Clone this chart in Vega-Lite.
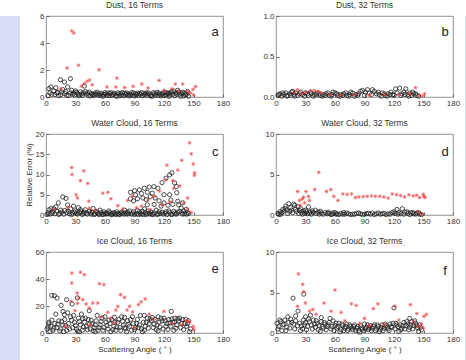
{
"$schema": "https://vega.github.io/schema/vega-lite/v6.json",
"background": "white",
"padding": 0,
"spacing": 4,
"config": {
  "font": "Liberation Sans",
  "title": {"fontSize": 8.5, "fontWeight": "normal", "color": "#333", "offset": 3, "font": "Liberation Sans"},
  "axis": {"labelFontSize": 8, "labelColor": "#333", "labelFont": "Liberation Sans", "tickColor": "#666", "tickSize": -3, "labelPadding": 5, "labelOverlap": false, "labelFlush": false, "labelBound": false, "domain": false, "grid": false, "titleFont": "Liberation Sans", "titleFontSize": 8, "titleFontWeight": "normal", "titleColor": "#333"},
  "view": {"stroke": "#777", "strokeWidth": 0.8}
},
"datasets": {
"ak": [{"x":3,"y":0.62},{"x":5,"y":0.75},{"x":8,"y":0.45},{"x":10,"y":0.68},{"x":12,"y":0.35},{"x":14.6,"y":1.28},{"x":17,"y":0.55},{"x":18.7,"y":1.11},{"x":20,"y":0.4},{"x":22,"y":0.75},{"x":24.8,"y":1.36},{"x":26,"y":0.5},{"x":28,"y":0.3},{"x":30,"y":0.45},{"x":32,"y":0.25},{"x":35,"y":0.38},{"x":38,"y":0.3},{"x":39,"y":0.81},{"x":41,"y":0.22},{"x":44,"y":0.35},{"x":47,"y":0.2},{"x":50,"y":0.3},{"x":53,"y":0.15},{"x":56,"y":0.28},{"x":59,"y":0.2},{"x":62,"y":0.12},{"x":65,"y":0.25},{"x":68,"y":0.18},{"x":71,"y":0.1},{"x":74,"y":0.22},{"x":77,"y":0.15},{"x":80,"y":0.28},{"x":83,"y":0.12},{"x":86,"y":0.2},{"x":89,"y":0.3},{"x":92,"y":0.15},{"x":95,"y":0.25},{"x":98,"y":0.1},{"x":101,"y":0.22},{"x":104,"y":0.3},{"x":107,"y":0.15},{"x":110,"y":0.25},{"x":113,"y":0.35},{"x":116,"y":0.2},{"x":119,"y":0.3},{"x":122,"y":0.15},{"x":125,"y":0.28},{"x":128,"y":0.4},{"x":130,"y":0.45},{"x":132,"y":0.3},{"x":134,"y":0.5},{"x":136,"y":0.2},{"x":139,"y":0.35},{"x":142,"y":0.15},{"x":145,"y":0.05},{"x":2,"y":0.1},{"x":6,"y":0.2},{"x":15,"y":0.15},{"x":23,"y":0.1},{"x":34,"y":0.1},{"x":45,"y":0.08},{"x":58,"y":0.05},{"x":72,"y":0.05},{"x":90,"y":0.08},{"x":108,"y":0.05},{"x":125,"y":0.05},{"x":140,"y":0.08},{"x":11,"y":0.3},{"x":19,"y":0.25},{"x":27,"y":0.2},{"x":36,"y":0.22},{"x":43,"y":0.12},{"x":49,"y":0.18},{"x":55,"y":0.1},{"x":63,"y":0.3},{"x":69,"y":0.28},{"x":78,"y":0.32},{"x":85,"y":0.08},{"x":93,"y":0.28},{"x":97,"y":0.32},{"x":103,"y":0.12},{"x":111,"y":0.12},{"x":117,"y":0.08},{"x":124,"y":0.22},{"x":131,"y":0.1},{"x":137,"y":0.05},{"x":4,"y":0.3},{"x":9,"y":0.18},{"x":13,"y":0.1},{"x":16,"y":0.38},{"x":21,"y":0.12},{"x":25,"y":0.3},{"x":29,"y":0.15},{"x":31,"y":0.35},{"x":33,"y":0.18},{"x":37,"y":0.12},{"x":40,"y":0.4},{"x":42,"y":0.3},{"x":46,"y":0.25},{"x":48,"y":0.1},{"x":51,"y":0.2},{"x":52,"y":0.35},{"x":54,"y":0.25},{"x":57,"y":0.15},{"x":60,"y":0.32},{"x":61,"y":0.22},{"x":64,"y":0.1},{"x":66,"y":0.32},{"x":67,"y":0.12},{"x":70,"y":0.22},{"x":73,"y":0.32},{"x":75,"y":0.1},{"x":76,"y":0.28},{"x":79,"y":0.1},{"x":81,"y":0.18},{"x":82,"y":0.3},{"x":84,"y":0.22},{"x":87,"y":0.32},{"x":88,"y":0.12},{"x":91,"y":0.22},{"x":94,"y":0.12},{"x":96,"y":0.2},{"x":99,"y":0.28},{"x":100,"y":0.15},{"x":102,"y":0.3},{"x":105,"y":0.22},{"x":106,"y":0.08},{"x":109,"y":0.32},{"x":112,"y":0.22},{"x":114,"y":0.12},{"x":115,"y":0.3},{"x":118,"y":0.2},{"x":120,"y":0.1},{"x":121,"y":0.35},{"x":123,"y":0.3},{"x":126,"y":0.15},{"x":127,"y":0.35},{"x":129,"y":0.2},{"x":133,"y":0.2},{"x":135,"y":0.35},{"x":138,"y":0.25},{"x":141,"y":0.3},{"x":143,"y":0.2},{"x":144,"y":0.4}],
"ar": [{"x":26.2,"y":4.89},{"x":28.2,"y":4.74},{"x":21.4,"y":2.15},{"x":33,"y":2.35},{"x":54,"y":2.02},{"x":41.8,"y":1.16},{"x":44.5,"y":1.26},{"x":39,"y":0.99},{"x":72,"y":1.4},{"x":62,"y":0.74},{"x":71,"y":0.74},{"x":88.6,"y":0.79},{"x":97.5,"y":0.96},{"x":115,"y":1.23},{"x":131.5,"y":0.96},{"x":139,"y":0.96},{"x":149.5,"y":0.57},{"x":152,"y":0.77},{"x":144,"y":0.42},{"x":103.6,"y":0.67},{"x":15,"y":0.6},{"x":47,"y":0.9},{"x":36,"y":0.8},{"x":80,"y":0.7},{"x":120,"y":0.5},{"x":128,"y":0.6},{"x":135,"y":0.45},{"x":147,"y":0.3},{"x":150,"y":0.15}],
"bk": [{"x":2,"y":0.02},{"x":4,"y":0.04},{"x":6,"y":0.01},{"x":8,"y":0.03},{"x":10,"y":0.05},{"x":12,"y":0.02},{"x":14,"y":0.04},{"x":16,"y":0.06},{"x":18,"y":0.03},{"x":20,"y":0.05},{"x":22,"y":0.02},{"x":24,"y":0.04},{"x":27,"y":0.03},{"x":30,"y":0.05},{"x":33,"y":0.02},{"x":36,"y":0.04},{"x":39,"y":0.03},{"x":42,"y":0.05},{"x":45,"y":0.02},{"x":48,"y":0.03},{"x":51,"y":0.04},{"x":54,"y":0.02},{"x":57,"y":0.03},{"x":60,"y":0.05},{"x":63,"y":0.02},{"x":66,"y":0.03},{"x":69,"y":0.04},{"x":72,"y":0.02},{"x":75,"y":0.03},{"x":78,"y":0.05},{"x":81,"y":0.03},{"x":84,"y":0.04},{"x":86,"y":0.07},{"x":88,"y":0.08},{"x":91,"y":0.06},{"x":93,"y":0.09},{"x":95,"y":0.05},{"x":98,"y":0.09},{"x":100,"y":0.07},{"x":102,"y":0.04},{"x":105,"y":0.03},{"x":108,"y":0.05},{"x":111,"y":0.02},{"x":114,"y":0.04},{"x":117,"y":0.06},{"x":119,"y":0.03},{"x":121.6,"y":0.1},{"x":123,"y":0.05},{"x":125.7,"y":0.11},{"x":128,"y":0.04},{"x":130,"y":0.06},{"x":132,"y":0.1},{"x":134,"y":0.03},{"x":136,"y":0.05},{"x":138,"y":0.02},{"x":140,"y":0.04},{"x":143,"y":0.02},{"x":145,"y":0.01},{"x":17,"y":0.07},{"x":35,"y":0.06},{"x":58,"y":0.06},{"x":76,"y":0.06},{"x":3,"y":0.03},{"x":7,"y":0.05},{"x":11,"y":0.01},{"x":15,"y":0.02},{"x":19,"y":0.01},{"x":25,"y":0.06},{"x":29,"y":0.01},{"x":32,"y":0.04},{"x":38,"y":0.01},{"x":41,"y":0.03},{"x":44,"y":0.04},{"x":47,"y":0.01},{"x":50,"y":0.02},{"x":53,"y":0.05},{"x":56,"y":0.01},{"x":62,"y":0.04},{"x":65,"y":0.01},{"x":68,"y":0.02},{"x":71,"y":0.05},{"x":74,"y":0.01},{"x":80,"y":0.01},{"x":83,"y":0.02},{"x":90,"y":0.02},{"x":97,"y":0.03},{"x":104,"y":0.06},{"x":107,"y":0.01},{"x":110,"y":0.04},{"x":113,"y":0.01},{"x":116,"y":0.03},{"x":120,"y":0.02},{"x":127,"y":0.02},{"x":131,"y":0.03},{"x":135,"y":0.01},{"x":139,"y":0.06},{"x":142,"y":0.04}],
"br": [{"x":22,"y":0.09},{"x":19,"y":0.05},{"x":26,"y":0.04},{"x":30,"y":0.06},{"x":35,"y":0.07},{"x":39,"y":0.08},{"x":43,"y":0.07},{"x":46,"y":0.05},{"x":55,"y":0.03},{"x":65,"y":0.02},{"x":80,"y":0.03},{"x":95,"y":0.02},{"x":110,"y":0.03},{"x":125,"y":0.03},{"x":136,"y":0.04},{"x":142,"y":0.115},{"x":146,"y":0.02},{"x":151,"y":0.04},{"x":149,"y":0.01}],
"ck": [{"x":5,"y":1.6},{"x":10,"y":2},{"x":12.6,"y":3},{"x":17,"y":4.45},{"x":20.4,"y":4.1},{"x":15,"y":1.2},{"x":22,"y":2.5},{"x":25,"y":1.5},{"x":28,"y":2.2},{"x":30,"y":1},{"x":33,"y":1.8},{"x":36,"y":0.8},{"x":40,"y":1.3},{"x":45,"y":0.5},{"x":48,"y":1.6},{"x":52,"y":0.6},{"x":55,"y":1.2},{"x":60,"y":0.4},{"x":64,"y":1},{"x":68,"y":0.3},{"x":72,"y":0.8},{"x":76,"y":0.5},{"x":80,"y":1.2},{"x":83,"y":0.7},{"x":86,"y":5.6},{"x":90,"y":6},{"x":95,"y":6.2},{"x":100,"y":6.6},{"x":105,"y":6.9},{"x":109.7,"y":7},{"x":113.8,"y":6.6},{"x":118,"y":8},{"x":122,"y":9.1},{"x":125.7,"y":9.9},{"x":128,"y":10.4},{"x":130.8,"y":7.9},{"x":132.5,"y":7},{"x":86,"y":4},{"x":89,"y":3.5},{"x":93,"y":4},{"x":98.5,"y":4.2},{"x":102,"y":3.8},{"x":106,"y":4.5},{"x":110,"y":2.6},{"x":117,"y":2.2},{"x":124,"y":2.4},{"x":129,"y":2.6},{"x":134,"y":3.4},{"x":139,"y":3},{"x":137.5,"y":1.7},{"x":142.7,"y":1.4},{"x":120,"y":5},{"x":125.7,"y":5},{"x":115,"y":3.5},{"x":100,"y":1.5},{"x":95,"y":0.8},{"x":105,"y":0.5},{"x":112,"y":1.2},{"x":118,"y":0.7},{"x":125,"y":1},{"x":131,"y":0.5},{"x":136,"y":0.9},{"x":141,"y":0.3},{"x":144,"y":0.6},{"x":2,"y":0.5},{"x":4,"y":0.2},{"x":7,"y":0.8},{"x":9,"y":0.3},{"x":14,"y":0.4},{"x":18,"y":0.2},{"x":21,"y":0.6},{"x":24,"y":0.3},{"x":27,"y":0.5},{"x":32,"y":0.2},{"x":38,"y":0.4},{"x":42,"y":0.2},{"x":50,"y":0.3},{"x":57,"y":0.2},{"x":62,"y":0.5},{"x":66,"y":0.15},{"x":70,"y":0.3},{"x":74,"y":0.2},{"x":78,"y":0.4},{"x":82,"y":0.2},{"x":88,"y":0.5},{"x":92,"y":0.3},{"x":97,"y":0.2},{"x":103,"y":0.4},{"x":108,"y":0.2},{"x":114,"y":0.3},{"x":121,"y":0.4},{"x":127,"y":0.2},{"x":133,"y":0.3},{"x":139,"y":0.2},{"x":3,"y":1.3},{"x":8,"y":1.5},{"x":91,"y":5},{"x":97,"y":5.3},{"x":103,"y":5.6},{"x":108,"y":5.4},{"x":111,"y":4.2},{"x":103,"y":2.5},{"x":120,"y":3},{"x":127,"y":3.7},{"x":133,"y":5.5},{"x":135,"y":2.5},{"x":1,"y":0.1},{"x":6,"y":0.4},{"x":11,"y":0.9},{"x":13,"y":0.1},{"x":16,"y":0.7},{"x":19,"y":1.1},{"x":23,"y":0.9},{"x":26,"y":0.1},{"x":29,"y":0.7},{"x":31,"y":0.4},{"x":34,"y":0.6},{"x":35,"y":1.3},{"x":37,"y":0.1},{"x":39,"y":0.7},{"x":41,"y":0.5},{"x":44,"y":0.9},{"x":46,"y":0.2},{"x":47,"y":0.7},{"x":49,"y":0.1},{"x":51,"y":0.9},{"x":53,"y":0.3},{"x":54,"y":0.1},{"x":56,"y":0.6},{"x":58,"y":0.1},{"x":59,"y":0.8},{"x":61,"y":0.2},{"x":63,"y":0.3},{"x":65,"y":0.6},{"x":67,"y":0.1},{"x":69,"y":0.6},{"x":71,"y":0.1},{"x":73,"y":0.4},{"x":75,"y":0.1},{"x":77,"y":0.7},{"x":79,"y":0.2},{"x":81,"y":0.5},{"x":84,"y":0.3},{"x":85,"y":1.0},{"x":87,"y":0.2},{"x":89,"y":0.8},{"x":90,"y":0.1},{"x":93,"y":1.1},{"x":94,"y":0.1},{"x":96,"y":0.4},{"x":98,"y":0.9},{"x":99,"y":0.1},{"x":101,"y":0.6},{"x":102,"y":0.1},{"x":104,"y":1.0},{"x":106,"y":0.2},{"x":107,"y":0.7},{"x":109,"y":0.1},{"x":110,"y":0.5},{"x":113,"y":0.1},{"x":115,"y":0.8},{"x":116,"y":0.3},{"x":119,"y":0.2},{"x":122,"y":0.8},{"x":123,"y":0.1},{"x":126,"y":0.6},{"x":128,"y":0.1},{"x":130,"y":0.9},{"x":132,"y":0.2},{"x":134,"y":0.7},{"x":138,"y":0.5},{"x":140,"y":1.0},{"x":143,"y":0.2},{"x":145,"y":0.4}],
"cr": [{"x":26.2,"y":11.7},{"x":26.5,"y":10},{"x":38.4,"y":10.9},{"x":35,"y":8.5},{"x":42.5,"y":7.8},{"x":30.6,"y":5},{"x":32,"y":4.2},{"x":43.5,"y":3.4},{"x":57.7,"y":5.4},{"x":62.8,"y":5.6},{"x":66,"y":4},{"x":73,"y":2.3},{"x":83,"y":3.6},{"x":88,"y":4.6},{"x":97,"y":2.2},{"x":103.6,"y":3.7},{"x":110,"y":4.6},{"x":115.5,"y":5.9},{"x":122,"y":8.7},{"x":123,"y":12.3},{"x":129,"y":8.5},{"x":130,"y":6.6},{"x":134,"y":11.1},{"x":138,"y":13.5},{"x":146,"y":17.8},{"x":147.7,"y":15.1},{"x":149.8,"y":12.6},{"x":151,"y":10.4},{"x":151,"y":9.8},{"x":144,"y":4.2},{"x":140,"y":3},{"x":144,"y":1.4},{"x":147.7,"y":0.6},{"x":8.5,"y":1.4},{"x":22,"y":1.8},{"x":44,"y":1.7},{"x":50,"y":1.2},{"x":78,"y":1.5},{"x":92,"y":1.8},{"x":106,"y":1.3},{"x":118,"y":2.5},{"x":126,"y":3.2},{"x":136,"y":7.2}],
"dk": [{"x":13,"y":1.4},{"x":18,"y":1.34},{"x":22.4,"y":1},{"x":9.5,"y":0.8},{"x":33,"y":1},{"x":40,"y":0.6},{"x":123,"y":0.69},{"x":128.4,"y":0.77},{"x":2,"y":0.2},{"x":4,"y":0.4},{"x":6,"y":0.3},{"x":8,"y":0.5},{"x":11,"y":0.6},{"x":15,"y":0.9},{"x":20,"y":0.7},{"x":25,"y":0.8},{"x":28,"y":0.5},{"x":30,"y":0.6},{"x":35,"y":0.4},{"x":38,"y":0.3},{"x":43,"y":0.35},{"x":46,"y":0.25},{"x":50,"y":0.3},{"x":54,"y":0.2},{"x":58,"y":0.25},{"x":62,"y":0.15},{"x":66,"y":0.2},{"x":70,"y":0.1},{"x":74,"y":0.15},{"x":78,"y":0.1},{"x":82,"y":0.2},{"x":86,"y":0.15},{"x":90,"y":0.1},{"x":94,"y":0.2},{"x":98,"y":0.25},{"x":102,"y":0.15},{"x":106,"y":0.1},{"x":110,"y":0.2},{"x":114,"y":0.15},{"x":118,"y":0.3},{"x":120,"y":0.4},{"x":125,"y":0.3},{"x":131,"y":0.35},{"x":134,"y":0.2},{"x":137,"y":0.3},{"x":140,"y":0.15},{"x":143,"y":0.25},{"x":146,"y":0.1},{"x":148,"y":0.05},{"x":5,"y":0.1},{"x":12,"y":0.2},{"x":17,"y":0.3},{"x":23,"y":0.2},{"x":27,"y":0.1},{"x":32,"y":0.15},{"x":48,"y":0.1},{"x":56,"y":0.05},{"x":64,"y":0.05},{"x":76,"y":0.05},{"x":88,"y":0.05},{"x":100,"y":0.05},{"x":112,"y":0.05},{"x":124,"y":0.1},{"x":136,"y":0.05},{"x":10,"y":1.1},{"x":16,"y":0.6},{"x":19,"y":1.2},{"x":3,"y":0.05},{"x":7,"y":0.7},{"x":14,"y":0.45},{"x":21,"y":0.45},{"x":24,"y":0.55},{"x":26,"y":0.3},{"x":29,"y":0.2},{"x":31,"y":0.4},{"x":34,"y":0.25},{"x":36,"y":0.1},{"x":37,"y":0.5},{"x":41,"y":0.2},{"x":44,"y":0.1},{"x":45,"y":0.45},{"x":52,"y":0.15},{"x":53,"y":0.35},{"x":57,"y":0.1},{"x":60,"y":0.3},{"x":61,"y":0.1},{"x":68,"y":0.1},{"x":69,"y":0.3},{"x":72,"y":0.25},{"x":80,"y":0.1},{"x":84,"y":0.25},{"x":92,"y":0.15},{"x":96,"y":0.1},{"x":104,"y":0.25},{"x":108,"y":0.15},{"x":116,"y":0.1},{"x":121,"y":0.2},{"x":127,"y":0.15},{"x":130,"y":0.1},{"x":133,"y":0.4},{"x":139,"y":0.3},{"x":142,"y":0.1},{"x":145,"y":0.3}],
"dr": [{"x":43.5,"y":5.26},{"x":22,"y":2.9},{"x":26.8,"y":2},{"x":28,"y":2.2},{"x":30.6,"y":2.9},{"x":33,"y":2.3},{"x":34,"y":1.8},{"x":39.4,"y":3.15},{"x":24,"y":1.8},{"x":51.3,"y":2.9},{"x":55.7,"y":3.15},{"x":58.8,"y":2.3},{"x":63,"y":1.8},{"x":68,"y":2.6},{"x":72.4,"y":2.55},{"x":76.8,"y":2.6},{"x":80.8,"y":2.15},{"x":84.2,"y":2.23},{"x":88.7,"y":2.27},{"x":92.7,"y":2.31},{"x":97.1,"y":2.35},{"x":101.2,"y":2.31},{"x":105.6,"y":2.31},{"x":109.7,"y":2.23},{"x":114.1,"y":2.1},{"x":118.2,"y":2.6},{"x":122.6,"y":2.5},{"x":126.7,"y":2.39},{"x":130.8,"y":2.23},{"x":135.2,"y":2.5},{"x":139.6,"y":2.35},{"x":143,"y":2.43},{"x":146,"y":2.15},{"x":149.8,"y":2.55},{"x":150.5,"y":2.31},{"x":151.5,"y":2.15},{"x":24.8,"y":1.2},{"x":148.6,"y":0.1},{"x":145,"y":0.4},{"x":29,"y":1.5}],
"ek": [{"x":5.8,"y":27.9},{"x":8.5,"y":27.6},{"x":11.2,"y":25.9},{"x":15.3,"y":20.5},{"x":21,"y":24.7},{"x":26.5,"y":21.5},{"x":32,"y":26},{"x":17.3,"y":16},{"x":18.7,"y":13.6},{"x":44,"y":16.5},{"x":37.4,"y":10.6},{"x":69.6,"y":11.6},{"x":79.8,"y":11.6},{"x":127.4,"y":16},{"x":130.8,"y":8.1},{"x":2.7,"y":6.7},{"x":1,"y":3},{"x":3,"y":8},{"x":5,"y":5},{"x":7,"y":2},{"x":9,"y":7},{"x":11,"y":4},{"x":13,"y":9},{"x":15,"y":3},{"x":17,"y":6},{"x":19,"y":10},{"x":21,"y":2},{"x":23,"y":7},{"x":25,"y":12},{"x":27,"y":4},{"x":29,"y":8},{"x":31,"y":3},{"x":33,"y":11},{"x":35,"y":6},{"x":37,"y":2},{"x":39,"y":8},{"x":41,"y":5},{"x":43,"y":10},{"x":45,"y":3},{"x":47,"y":7},{"x":49,"y":4},{"x":51,"y":9},{"x":53,"y":2},{"x":55,"y":6},{"x":57,"y":11},{"x":59,"y":4},{"x":61,"y":8},{"x":63,"y":3},{"x":65,"y":7},{"x":67,"y":10},{"x":69,"y":5},{"x":71,"y":2},{"x":73,"y":8},{"x":75,"y":4},{"x":77,"y":12},{"x":79,"y":6},{"x":81,"y":3},{"x":83,"y":9},{"x":85,"y":5},{"x":87,"y":2},{"x":89,"y":7},{"x":91,"y":4},{"x":93,"y":10},{"x":95,"y":6},{"x":97,"y":3},{"x":99,"y":8},{"x":101,"y":5},{"x":103,"y":11},{"x":105,"y":7},{"x":107,"y":9},{"x":109,"y":4},{"x":111,"y":10},{"x":113,"y":6},{"x":115,"y":8},{"x":117,"y":11},{"x":119,"y":3},{"x":121,"y":9},{"x":123,"y":7},{"x":125,"y":10},{"x":127,"y":5},{"x":129,"y":8},{"x":131,"y":11},{"x":133,"y":6},{"x":135,"y":9},{"x":137,"y":4},{"x":139,"y":10},{"x":141,"y":7},{"x":143,"y":5},{"x":145,"y":9},{"x":147,"y":3},{"x":10,"y":14},{"x":22,"y":15},{"x":28,"y":13},{"x":36,"y":14},{"x":52,"y":13},{"x":60,"y":12},{"x":88,"y":12},{"x":96,"y":13},{"x":100,"y":13},{"x":108,"y":11.5},{"x":114,"y":12},{"x":120,"y":11},{"x":136,"y":11},{"x":142,"y":10},{"x":4,"y":1},{"x":18,"y":1},{"x":34,"y":1},{"x":50,"y":1},{"x":66,"y":1},{"x":82,"y":1},{"x":98,"y":1},{"x":114,"y":1.5},{"x":130,"y":2},{"x":146,"y":1},{"x":2,"y":4.5},{"x":6,"y":9.5},{"x":8,"y":3.5},{"x":12,"y":6.5},{"x":14,"y":1.5},{"x":16,"y":8.5},{"x":20,"y":5.5},{"x":24,"y":3},{"x":26,"y":9.5},{"x":30,"y":5.5},{"x":32,"y":1.5},{"x":34,"y":8.5},{"x":38,"y":4.5},{"x":40,"y":11},{"x":42,"y":2.5},{"x":44,"y":6.5},{"x":46,"y":9.5},{"x":48,"y":1.8},{"x":50,"y":6},{"x":54,"y":4},{"x":56,"y":8.5},{"x":58,"y":2},{"x":62,"y":5.5},{"x":64,"y":9.5},{"x":68,"y":2.5},{"x":70,"y":8},{"x":72,"y":4.5},{"x":74,"y":10},{"x":76,"y":2},{"x":78,"y":8.5},{"x":80,"y":4},{"x":84,"y":6.5},{"x":86,"y":10},{"x":90,"y":2.5},{"x":92,"y":7},{"x":94,"y":4},{"x":100,"y":2},{"x":102,"y":8},{"x":104,"y":3.5},{"x":106,"y":10.5},{"x":110,"y":6.5},{"x":112,"y":2.5},{"x":116,"y":4.5},{"x":118,"y":9},{"x":122,"y":5},{"x":124,"y":2.5},{"x":126,"y":7.5},{"x":128,"y":10.5},{"x":132,"y":3.5},{"x":134,"y":10.5},{"x":138,"y":7},{"x":140,"y":2.5},{"x":144,"y":7}],
"er": [{"x":26.2,"y":44.4},{"x":26.2,"y":37},{"x":35,"y":45},{"x":39,"y":43.2},{"x":54.3,"y":36.5},{"x":58.8,"y":35.8},{"x":31.6,"y":29.6},{"x":33.3,"y":25.9},{"x":37.4,"y":24.7},{"x":25.5,"y":23.5},{"x":40.8,"y":21.5},{"x":47.6,"y":22.2},{"x":44,"y":18.5},{"x":52.6,"y":22.2},{"x":32,"y":22},{"x":29.5,"y":16.5},{"x":66,"y":11},{"x":71,"y":17},{"x":73,"y":19.7},{"x":75.8,"y":28.4},{"x":79.8,"y":26.4},{"x":82.5,"y":17},{"x":85,"y":19.8},{"x":88,"y":15.6},{"x":94,"y":21},{"x":96.8,"y":23},{"x":100.9,"y":25.2},{"x":62.8,"y":15.3},{"x":120,"y":16},{"x":69.6,"y":7.4},{"x":142.7,"y":9.1},{"x":144,"y":8.6},{"x":146,"y":8.1},{"x":150.5,"y":2.5},{"x":149.8,"y":4.9},{"x":20,"y":5},{"x":45,"y":6},{"x":90,"y":4},{"x":110,"y":10},{"x":128,"y":7},{"x":138,"y":6},{"x":56,"y":12},{"x":105,"y":14}],
"fk": [{"x":17.3,"y":4.3},{"x":28.2,"y":4.8},{"x":22.4,"y":2.7},{"x":120,"y":3.1},{"x":1,"y":1.2},{"x":3,"y":0.8},{"x":5,"y":1.4},{"x":7,"y":1.0},{"x":9,"y":1.6},{"x":11,"y":0.7},{"x":13,"y":1.3},{"x":15,"y":1.7},{"x":18,"y":1.1},{"x":20,"y":1.5},{"x":24,"y":1.2},{"x":26,"y":0.9},{"x":28,"y":1.6},{"x":30,"y":1.3},{"x":32,"y":0.8},{"x":34,"y":1.4},{"x":36,"y":1.0},{"x":38,"y":1.6},{"x":40,"y":0.7},{"x":42,"y":1.2},{"x":44,"y":0.9},{"x":46,"y":1.4},{"x":48,"y":0.6},{"x":50,"y":1.1},{"x":52,"y":0.8},{"x":54,"y":1.3},{"x":56,"y":0.5},{"x":58,"y":1.5},{"x":60,"y":0.9},{"x":62,"y":0.6},{"x":64,"y":1.2},{"x":66,"y":0.4},{"x":68,"y":0.9},{"x":70,"y":0.6},{"x":72,"y":1.1},{"x":74,"y":0.5},{"x":76,"y":0.8},{"x":78,"y":0.4},{"x":80,"y":1.0},{"x":82,"y":0.6},{"x":84,"y":0.3},{"x":86,"y":0.9},{"x":88,"y":0.5},{"x":90,"y":1.1},{"x":92,"y":0.7},{"x":94,"y":0.4},{"x":96,"y":0.9},{"x":98,"y":0.6},{"x":100,"y":1.0},{"x":102,"y":0.5},{"x":104,"y":0.8},{"x":106,"y":0.4},{"x":108,"y":1.0},{"x":110,"y":0.6},{"x":112,"y":0.9},{"x":114,"y":0.5},{"x":116,"y":1.1},{"x":118,"y":0.7},{"x":122,"y":1.2},{"x":124,"y":0.8},{"x":126,"y":1.0},{"x":128,"y":0.6},{"x":130,"y":1.3},{"x":132,"y":0.9},{"x":134,"y":1.1},{"x":136,"y":0.7},{"x":138,"y":1.4},{"x":140,"y":0.9},{"x":142,"y":1.2},{"x":144,"y":0.6},{"x":146,"y":1.0},{"x":148,"y":0.4},{"x":10,"y":0.3},{"x":25,"y":0.3},{"x":45,"y":0.2},{"x":65,"y":0.15},{"x":85,"y":0.1},{"x":105,"y":0.15},{"x":125,"y":0.2},{"x":145,"y":0.2},{"x":30,"y":2.0},{"x":35,"y":2.2},{"x":46,"y":1.9},{"x":55,"y":1.8},{"x":136,"y":1.8},{"x":12,"y":2.0},{"x":20,"y":2.1},{"x":2,"y":0.5},{"x":4,"y":1.6},{"x":6,"y":0.3},{"x":8,"y":1.1},{"x":14,"y":0.6},{"x":16,"y":1.3},{"x":19,"y":0.5},{"x":22,"y":0.9},{"x":27,"y":0.5},{"x":29,"y":1.0},{"x":31,"y":0.4},{"x":33,"y":1.7},{"x":37,"y":0.5},{"x":39,"y":1.1},{"x":41,"y":1.5},{"x":43,"y":0.4},{"x":47,"y":0.8},{"x":49,"y":1.3},{"x":51,"y":0.4},{"x":53,"y":1.0},{"x":57,"y":0.8},{"x":59,"y":0.3},{"x":61,"y":1.2},{"x":63,"y":0.8},{"x":67,"y":1.1},{"x":69,"y":0.3},{"x":71,"y":0.8},{"x":73,"y":0.3},{"x":75,"y":1.0},{"x":77,"y":0.6},{"x":79,"y":0.8},{"x":81,"y":0.3},{"x":83,"y":0.8},{"x":87,"y":0.6},{"x":89,"y":0.3},{"x":91,"y":0.5},{"x":93,"y":1.0},{"x":95,"y":0.6},{"x":97,"y":0.3},{"x":99,"y":0.8},{"x":101,"y":0.3},{"x":103,"y":1.0},{"x":107,"y":0.7},{"x":109,"y":0.3},{"x":111,"y":1.1},{"x":113,"y":0.7},{"x":115,"y":0.3},{"x":117,"y":0.8},{"x":119,"y":1.2},{"x":121,"y":0.5},{"x":123,"y":1.0},{"x":127,"y":0.4},{"x":129,"y":0.9},{"x":131,"y":0.5},{"x":133,"y":1.4},{"x":135,"y":0.4},{"x":137,"y":1.0},{"x":139,"y":0.5},{"x":141,"y":1.5},{"x":143,"y":0.9},{"x":147,"y":0.7}],
"fr": [{"x":22.8,"y":7.3},{"x":27.2,"y":6},{"x":28.2,"y":5.1},{"x":29.9,"y":3.7},{"x":60,"y":5.3},{"x":48.9,"y":3.7},{"x":34,"y":2.7},{"x":37.4,"y":2.9},{"x":40.8,"y":2.3},{"x":56,"y":2.7},{"x":66.2,"y":2.55},{"x":76.8,"y":3.6},{"x":81.5,"y":3.4},{"x":99,"y":3},{"x":103.6,"y":3.6},{"x":121,"y":3.3},{"x":136.6,"y":3.5},{"x":143.3,"y":2.4},{"x":150.5,"y":2.05},{"x":152.8,"y":2.3},{"x":90,"y":1.8},{"x":22,"y":3.3},{"x":85,"y":1.2},{"x":110,"y":1.0},{"x":140,"y":1.4},{"x":148,"y":1.1},{"x":70,"y":1.5},{"x":125,"y":1.6},{"x":95,"y":0.9},{"x":145,"y":0.8},{"x":150,"y":0.6}]
},
"hconcat": [
  {"width": 20, "height": 360, "data": {"values": []}, "mark": "point", "view": {"fill": "#d8dbf6", "stroke": null}},
  {"columns": 2, "spacing": {"row": 10, "column": 31},
   "concat": [
    {"title": "Dust, 16 Terms", "width": 177, "height": 81, "layer": [
      {"data": {"name": "ak"}, "mark": {"type": "point", "shape": "circle", "size": 18, "strokeWidth": 0.95, "color": "#222", "opacity": 0.85},
       "encoding": {"x": {"field": "x", "type": "quantitative", "scale": {"domain": [0, 180], "nice": false}, "axis": {"values": [0, 30, 60, 90, 120, 150, 180], "title": null, "labelOverlap": false}},
                    "y": {"field": "y", "type": "quantitative", "scale": {"domain": [0, 6], "nice": false}, "axis": {"values": [0, 2, 4, 6], "title": null, "labelOverlap": false}}}},
      {"data": {"name": "ar"}, "mark": {"type": "point", "shape": "M-1,0H1M0,-1V1M-0.7,-0.7L0.7,0.7M-0.7,0.7L0.7,-0.7", "filled": false, "size": 14, "strokeWidth": 0.8, "color": "#f03a3a", "opacity": 0.8},
       "encoding": {"x": {"field": "x", "type": "quantitative", "scale": {"domain": [0, 180], "nice": false}, "axis": {"values": [0, 30, 60, 90, 120, 150, 180], "title": null, "labelOverlap": false}}, "y": {"field": "y", "type": "quantitative", "scale": {"domain": [0, 6], "nice": false}, "axis": {"values": [0, 2, 4, 6], "title": null, "labelOverlap": false}}}},
      {"data": {"values": [{"l": "a"}]}, "mark": {"type": "text", "fontSize": 13, "color": "#222", "align": "center", "baseline": "middle"},
       "encoding": {"text": {"field": "l"}, "x": {"datum": 172, "type": "quantitative", "scale": {"domain": [0, 180], "nice": false}, "axis": {"values": [0, 30, 60, 90, 120, 150, 180], "title": null, "labelOverlap": false}}, "y": {"datum": 4.8, "type": "quantitative", "scale": {"domain": [0, 6], "nice": false}, "axis": {"values": [0, 2, 4, 6], "title": null, "labelOverlap": false}}}}
    ]},
    {"title": "Dust, 32 Terms", "width": 177, "height": 81, "layer": [
      {"data": {"name": "bk"}, "mark": {"type": "point", "shape": "circle", "size": 18, "strokeWidth": 0.95, "color": "#222", "opacity": 0.85},
       "encoding": {"x": {"field": "x", "type": "quantitative", "scale": {"domain": [0, 180], "nice": false}, "axis": {"values": [0, 30, 60, 90, 120, 150, 180], "title": null, "labelOverlap": false}},
                    "y": {"field": "y", "type": "quantitative", "scale": {"domain": [0, 1], "nice": false}, "axis": {"values": [0, 0.5, 1], "title": null, "labelOverlap": false}}}},
      {"data": {"name": "br"}, "mark": {"type": "point", "shape": "M-1,0H1M0,-1V1M-0.7,-0.7L0.7,0.7M-0.7,0.7L0.7,-0.7", "filled": false, "size": 14, "strokeWidth": 0.8, "color": "#f03a3a", "opacity": 0.8},
       "encoding": {"x": {"field": "x", "type": "quantitative", "scale": {"domain": [0, 180], "nice": false}, "axis": {"values": [0, 30, 60, 90, 120, 150, 180], "title": null, "labelOverlap": false}}, "y": {"field": "y", "type": "quantitative", "scale": {"domain": [0, 1], "nice": false}, "axis": {"values": [0, 0.5, 1], "title": null, "labelOverlap": false}}}},
      {"data": {"values": [{"l": "b"}]}, "mark": {"type": "text", "fontSize": 13, "color": "#222", "align": "center", "baseline": "middle"},
       "encoding": {"text": {"field": "l"}, "x": {"datum": 172, "type": "quantitative", "scale": {"domain": [0, 180], "nice": false}, "axis": {"values": [0, 30, 60, 90, 120, 150, 180], "title": null, "labelOverlap": false}}, "y": {"datum": 0.8, "type": "quantitative", "scale": {"domain": [0, 1], "nice": false}, "axis": {"values": [0, 0.5, 1], "title": null, "labelOverlap": false}}}}
    ]},
    {"title": "Water Cloud, 16 Terms", "width": 177, "height": 81, "layer": [
      {"data": {"name": "ck"}, "mark": {"type": "point", "shape": "circle", "size": 18, "strokeWidth": 0.95, "color": "#222", "opacity": 0.85},
       "encoding": {"x": {"field": "x", "type": "quantitative", "scale": {"domain": [0, 180], "nice": false}, "axis": {"values": [0, 30, 60, 90, 120, 150, 180], "title": null, "labelOverlap": false}},
                    "y": {"field": "y", "type": "quantitative", "scale": {"domain": [0, 20], "nice": false}, "axis": {"values": [0, 5, 10, 15, 20], "title": "Relative Error (%)", "titlePadding": 2, "labelOverlap": false}}}},
      {"data": {"name": "cr"}, "mark": {"type": "point", "shape": "M-1,0H1M0,-1V1M-0.7,-0.7L0.7,0.7M-0.7,0.7L0.7,-0.7", "filled": false, "size": 14, "strokeWidth": 0.8, "color": "#f03a3a", "opacity": 0.8},
       "encoding": {"x": {"field": "x", "type": "quantitative", "scale": {"domain": [0, 180], "nice": false}, "axis": {"values": [0, 30, 60, 90, 120, 150, 180], "title": null, "labelOverlap": false}}, "y": {"field": "y", "type": "quantitative", "scale": {"domain": [0, 20], "nice": false}, "axis": {"values": [0, 5, 10, 15, 20], "title": "Relative Error (%)", "titlePadding": 2, "labelOverlap": false}}}},
      {"data": {"values": [{"l": "c"}]}, "mark": {"type": "text", "fontSize": 13, "color": "#222", "align": "center", "baseline": "middle"},
       "encoding": {"text": {"field": "l"}, "x": {"datum": 172, "type": "quantitative", "scale": {"domain": [0, 180], "nice": false}, "axis": {"values": [0, 30, 60, 90, 120, 150, 180], "title": null, "labelOverlap": false}}, "y": {"datum": 15.6, "type": "quantitative", "scale": {"domain": [0, 20], "nice": false}, "axis": {"values": [0, 5, 10, 15, 20], "title": "Relative Error (%)", "titlePadding": 2, "labelOverlap": false}}}}
    ]},
    {"title": "Water Cloud, 32 Terms", "width": 177, "height": 81, "layer": [
      {"data": {"name": "dk"}, "mark": {"type": "point", "shape": "circle", "size": 18, "strokeWidth": 0.95, "color": "#222", "opacity": 0.85},
       "encoding": {"x": {"field": "x", "type": "quantitative", "scale": {"domain": [0, 180], "nice": false}, "axis": {"values": [0, 30, 60, 90, 120, 150, 180], "title": null, "labelOverlap": false}},
                    "y": {"field": "y", "type": "quantitative", "scale": {"domain": [0, 10], "nice": false}, "axis": {"values": [0, 5, 10], "title": null, "labelOverlap": false}}}},
      {"data": {"name": "dr"}, "mark": {"type": "point", "shape": "M-1,0H1M0,-1V1M-0.7,-0.7L0.7,0.7M-0.7,0.7L0.7,-0.7", "filled": false, "size": 14, "strokeWidth": 0.8, "color": "#f03a3a", "opacity": 0.8},
       "encoding": {"x": {"field": "x", "type": "quantitative", "scale": {"domain": [0, 180], "nice": false}, "axis": {"values": [0, 30, 60, 90, 120, 150, 180], "title": null, "labelOverlap": false}}, "y": {"field": "y", "type": "quantitative", "scale": {"domain": [0, 10], "nice": false}, "axis": {"values": [0, 5, 10], "title": null, "labelOverlap": false}}}},
      {"data": {"values": [{"l": "d"}]}, "mark": {"type": "text", "fontSize": 13, "color": "#222", "align": "center", "baseline": "middle"},
       "encoding": {"text": {"field": "l"}, "x": {"datum": 172, "type": "quantitative", "scale": {"domain": [0, 180], "nice": false}, "axis": {"values": [0, 30, 60, 90, 120, 150, 180], "title": null, "labelOverlap": false}}, "y": {"datum": 7.8, "type": "quantitative", "scale": {"domain": [0, 10], "nice": false}, "axis": {"values": [0, 5, 10], "title": null, "labelOverlap": false}}}}
    ]},
    {"title": "Ice Cloud, 16 Terms", "width": 177, "height": 81, "layer": [
      {"data": {"name": "ek"}, "mark": {"type": "point", "shape": "circle", "size": 18, "strokeWidth": 0.95, "color": "#222", "opacity": 0.85},
       "encoding": {"x": {"field": "x", "type": "quantitative", "scale": {"domain": [0, 180], "nice": false}, "axis": {"values": [0, 30, 60, 90, 120, 150, 180], "title": "Scattering Angle ( ° )", "titlePadding": 2, "labelOverlap": false}},
                    "y": {"field": "y", "type": "quantitative", "scale": {"domain": [0, 60], "nice": false}, "axis": {"values": [0, 20, 40, 60], "title": null, "labelOverlap": false}}}},
      {"data": {"name": "er"}, "mark": {"type": "point", "shape": "M-1,0H1M0,-1V1M-0.7,-0.7L0.7,0.7M-0.7,0.7L0.7,-0.7", "filled": false, "size": 14, "strokeWidth": 0.8, "color": "#f03a3a", "opacity": 0.8},
       "encoding": {"x": {"field": "x", "type": "quantitative", "scale": {"domain": [0, 180], "nice": false}, "axis": {"values": [0, 30, 60, 90, 120, 150, 180], "title": "Scattering Angle ( ° )", "titlePadding": 2, "labelOverlap": false}}, "y": {"field": "y", "type": "quantitative", "scale": {"domain": [0, 60], "nice": false}, "axis": {"values": [0, 20, 40, 60], "title": null, "labelOverlap": false}}}},
      {"data": {"values": [{"l": "e"}]}, "mark": {"type": "text", "fontSize": 13, "color": "#222", "align": "center", "baseline": "middle"},
       "encoding": {"text": {"field": "l"}, "x": {"datum": 172, "type": "quantitative", "scale": {"domain": [0, 180], "nice": false}, "axis": {"values": [0, 30, 60, 90, 120, 150, 180], "title": "Scattering Angle ( ° )", "titlePadding": 2, "labelOverlap": false}}, "y": {"datum": 47.5, "type": "quantitative", "scale": {"domain": [0, 60], "nice": false}, "axis": {"values": [0, 20, 40, 60], "title": null, "labelOverlap": false}}}}
    ]},
    {"title": "Ice Cloud, 32 Terms", "width": 177, "height": 81, "layer": [
      {"data": {"name": "fk"}, "mark": {"type": "point", "shape": "circle", "size": 18, "strokeWidth": 0.95, "color": "#222", "opacity": 0.85},
       "encoding": {"x": {"field": "x", "type": "quantitative", "scale": {"domain": [0, 180], "nice": false}, "axis": {"values": [0, 30, 60, 90, 120, 150, 180], "title": "Scattering Angle ( ° )", "titlePadding": 2, "labelOverlap": false}},
                    "y": {"field": "y", "type": "quantitative", "scale": {"domain": [0, 10], "nice": false}, "axis": {"values": [0, 5, 10], "title": null, "labelOverlap": false}}}},
      {"data": {"name": "fr"}, "mark": {"type": "point", "shape": "M-1,0H1M0,-1V1M-0.7,-0.7L0.7,0.7M-0.7,0.7L0.7,-0.7", "filled": false, "size": 14, "strokeWidth": 0.8, "color": "#f03a3a", "opacity": 0.8},
       "encoding": {"x": {"field": "x", "type": "quantitative", "scale": {"domain": [0, 180], "nice": false}, "axis": {"values": [0, 30, 60, 90, 120, 150, 180], "title": "Scattering Angle ( ° )", "titlePadding": 2, "labelOverlap": false}}, "y": {"field": "y", "type": "quantitative", "scale": {"domain": [0, 10], "nice": false}, "axis": {"values": [0, 5, 10], "title": null, "labelOverlap": false}}}},
      {"data": {"values": [{"l": "f"}]}, "mark": {"type": "text", "fontSize": 13, "color": "#222", "align": "center", "baseline": "middle"},
       "encoding": {"text": {"field": "l"}, "x": {"datum": 172, "type": "quantitative", "scale": {"domain": [0, 180], "nice": false}, "axis": {"values": [0, 30, 60, 90, 120, 150, 180], "title": "Scattering Angle ( ° )", "titlePadding": 2, "labelOverlap": false}}, "y": {"datum": 7.7, "type": "quantitative", "scale": {"domain": [0, 10], "nice": false}, "axis": {"values": [0, 5, 10], "title": null, "labelOverlap": false}}}}
    ]}
   ]},
  {"width": 9, "height": 360, "data": {"values": []}, "mark": "point", "view": {"fill": "#d8dbf6", "stroke": null}}
]
}
